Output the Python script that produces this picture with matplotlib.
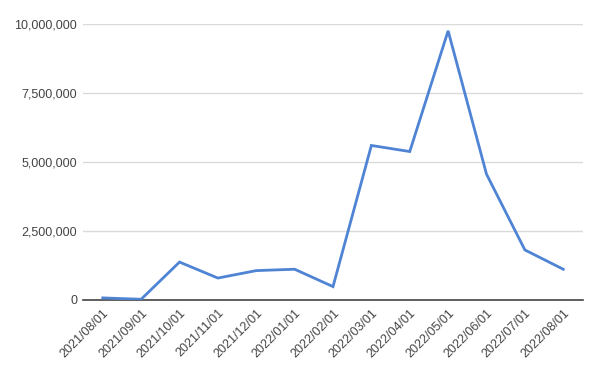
import matplotlib.pyplot as plt
from matplotlib.ticker import FuncFormatter

plt.rcParams['font.family'] = ['Liberation Sans', 'DejaVu Sans']

# monthly values
months = ['2021/08/01', '2021/09/01', '2021/10/01', '2021/11/01', '2021/12/01',
          '2022/01/01', '2022/02/01', '2022/03/01', '2022/04/01', '2022/05/01',
          '2022/06/01', '2022/07/01', '2022/08/01']
values = [70000, 20000, 1370000, 790000, 1060000, 1110000, 480000,
          5600000, 5380000, 9760000, 4560000, 1810000, 1110000]
y_ticks = [0, 2500000, 5000000, 7500000, 10000000]

fig = plt.figure(figsize=(6, 3.72), dpi=100)
ax = fig.add_axes([0.138, 0.194, 0.834, 0.741])

x = range(len(months))
ax.plot(x, values, color='#4f84d4', linewidth=2, solid_joinstyle='miter', zorder=3)

ax.set_xlim(-0.52, len(months) - 0.48)
ax.set_ylim(0, 10000000)
ax.set_yticks(y_ticks)
ax.yaxis.set_major_formatter(FuncFormatter(lambda v, p: f'{int(v):,}'))
ax.grid(axis='y', color='#dadada', linewidth=1)
ax.axhline(0, color='#444444', linewidth=1.2, zorder=2, clip_on=False)

ax.set_xticks(list(x))
ax.set_xticklabels(months, rotation=45, ha='right', rotation_mode='anchor')
ax.tick_params(axis='both', length=0, labelsize=9, labelcolor='#444444')
ax.tick_params(axis='y', pad=4)
ax.tick_params(axis='x', pad=5)
for s in ax.spines.values():
    s.set_visible(False)

fig.savefig('out.png', dpi=100)
